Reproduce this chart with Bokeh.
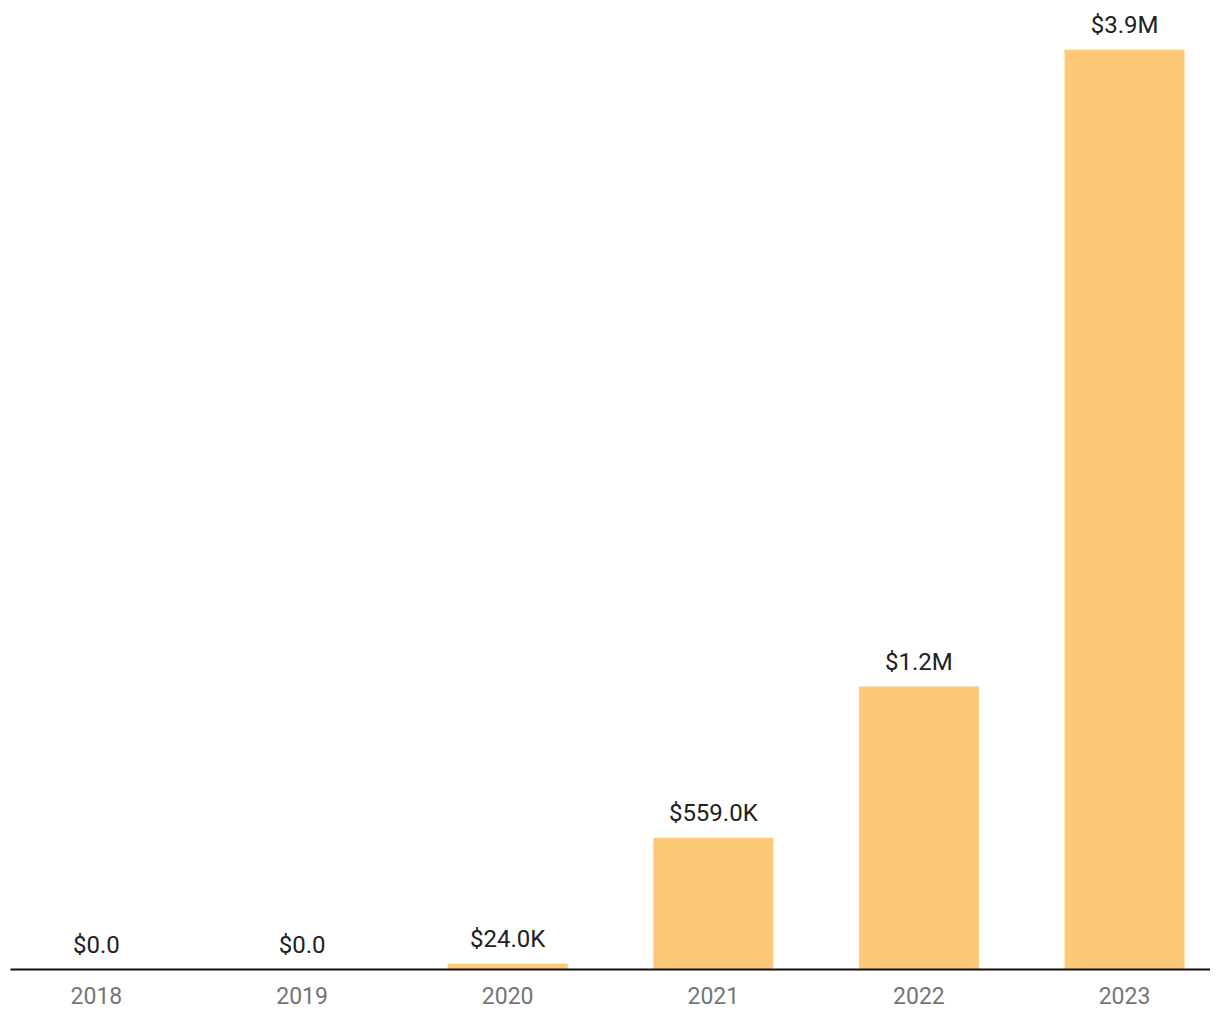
from bokeh.plotting import figure
from bokeh.models import ColumnDataSource, Range1d, FixedTicker
from bokeh.core.properties import value
from bokeh.embed import file_html
from bokeh.resources import INLINE

years = ["2018", "2019", "2020", "2021", "2022", "2023"]
amounts = [0, 0, 24000, 559000, 1200000, 3900000]


def fmt(v):
    if v >= 1e6:
        return "$%.1fM" % (v / 1e6)
    if v >= 1e3:
        return "$%.1fK" % (v / 1e3)
    return "$%.1f" % v


xs = list(range(len(years)))
labels = [fmt(v) for v in amounts]
src = ColumnDataSource(dict(x=xs, top=amounts, label=labels))

p = figure(
    frame_width=1200, frame_height=961,
    x_range=Range1d(-0.418, 5.418), y_range=Range1d(0, 4.075e6),
    output_backend="svg", toolbar_location=None,
    min_border_left=10, min_border_right=0, min_border_top=8, min_border_bottom=45,
)
p.vbar(x="x", top="top", bottom=0, width=0.584, source=src,
       fill_color="#FEC977", line_color=None)
p.text(x="x", y="top", text="label", source=src,
       text_align="center", text_baseline="alphabetic", y_offset=-25,
       text_font=value("Roboto"), text_font_size="24px", text_color="#212121")

p.yaxis.visible = False
p.xgrid.visible = False
p.ygrid.visible = False
p.outline_line_color = None
p.background_fill_color = "white"
p.border_fill_color = "white"

ax = p.xaxis[0]
ax.ticker = FixedTicker(ticks=xs)
ax.major_label_overrides = {i: y for i, y in enumerate(years)}
ax.major_tick_line_color = None
ax.minor_tick_line_color = None
ax.axis_line_color = "#111111"
ax.axis_line_width = 2
ax.major_label_text_font = "Roboto"
ax.major_label_text_font_size = "23px"
ax.major_label_text_color = "#757575"
ax.major_label_standoff = 11

open("out.html", "w").write(file_html(p, INLINE))
